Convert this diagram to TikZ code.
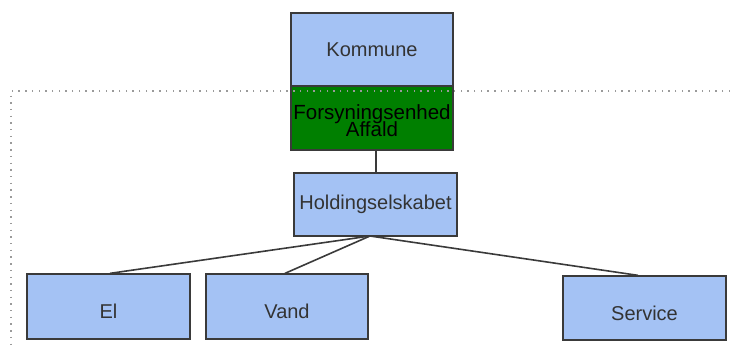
\documentclass[tikz,border=0pt]{standalone}
\usepackage{fontspec}
\setmainfont{Liberation Sans}
\definecolor{boxblue}{HTML}{A4C2F4}
\definecolor{boxgreen}{HTML}{007F00}
\definecolor{edgegray}{HTML}{3A3A3A}
\definecolor{txtgray}{HTML}{333333}
\definecolor{dotgray}{HTML}{9A9A9A}
\newcommand{\lowtext}[1]{\raisebox{-5pt}[\height][\depth]{#1}}
\newcommand{\lowgreen}[1]{\raisebox{-2.5pt}[\height][\depth]{#1}}
\begin{document}
\begin{tikzpicture}[x=1pt,y=-1pt,
  bluebox/.style={draw=edgegray, line width=1.3pt, fill=boxblue, inner sep=0pt,
    text=txtgray, font=\fontsize{20}{22}\selectfont},
  greenbox/.style={draw=edgegray, line width=1.3pt, fill=boxgreen, inner sep=0pt,
    text=black, font=\fontsize{20.5}{23}\selectfont, align=center},
  conn/.style={draw=edgegray, line width=1.6pt},
  dotline/.style={draw=dotgray, line width=1.6pt, dash pattern=on 1.4pt off 5.3pt}]
\useasboundingbox (0,0) rectangle (730,345);
\node[bluebox, minimum width=162, minimum height=73] (kom) at (372,49.5) {Kommune};
\node[greenbox, minimum width=162, minimum height=64] (forsy) at (372,118) {\lowgreen{Forsyningsenhed}\\[-6pt]\lowgreen{Affald}};
\node[bluebox, minimum width=163, minimum height=63] (hold) at (375.5,204.5) {Holdingselskabet};
\node[bluebox, minimum width=163, minimum height=65] (el) at (108.5,306.5) {\lowtext{El}};
\node[bluebox, minimum width=162, minimum height=65] (vand) at (287,306.5) {\lowtext{Vand}};
\node[bluebox, minimum width=163, minimum height=64] (serv) at (644.5,308) {\lowtext{Service}};
\coordinate (hub) at (370,236);
\coordinate (fbot) at (376,150);
\draw[conn] (fbot) -- (fbot |- hold.north);
\draw[conn] (hub) -- ([xshift=1.5pt]el.north);
\draw[conn] (hub) -- ([xshift=-2pt]vand.north);
\draw[conn] (hub) -- ([xshift=-6.5pt]serv.north);
\coordinate (dl) at (11,91);
\coordinate (dr) at (730,91);
\coordinate (db) at (11,345);
\draw[dotline] (dr) -- (dl) -- (db);
\end{tikzpicture}
\end{document}
